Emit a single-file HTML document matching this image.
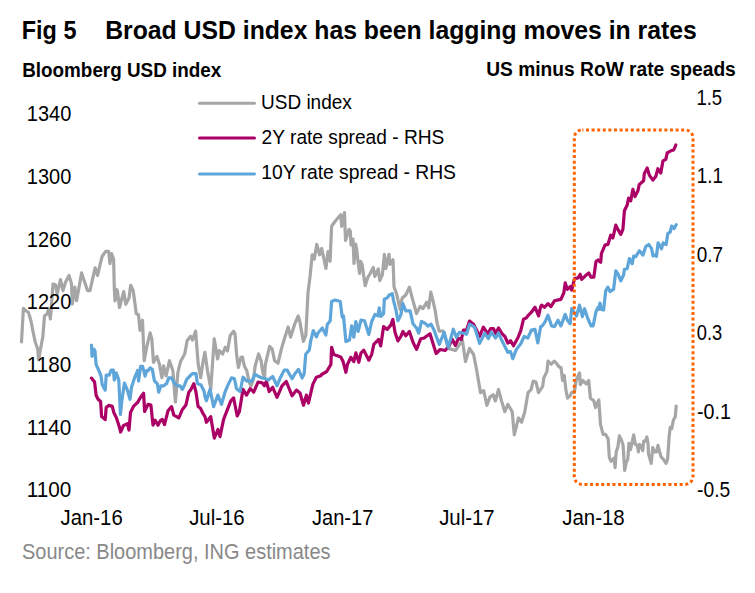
<!DOCTYPE html>
<html><head><meta charset="utf-8"><style>
html,body{margin:0;padding:0;background:#fff;}
body{width:755px;height:593px;overflow:hidden;}
svg{display:block;font-family:"Liberation Sans",sans-serif;}
</style></head><body>
<svg width="755" height="593" viewBox="0 0 755 593">
<rect x="0" y="0" width="755" height="593" fill="#fff"/>
<g fill="none" stroke-linejoin="round" stroke-linecap="round" stroke-width="3.2">
<polyline points="21.5,342.0 23.4,308.3 26.0,310.8 28.5,312.5 31.0,321.0 32.7,330.0 35.2,342.0 37.8,349.5 38.6,360.0 40.3,350.0 42.8,337.0 44.5,316.0 47.0,314.0 48.7,309.0 50.4,319.0 53.0,284.0 55.5,284.7 57.2,294.0 60.5,279.6 63.0,290.6 65.6,282.0 69.0,275.4 71.5,283.8 72.3,304.0 74.9,287.2 76.6,300.7 81.6,272.9 84.1,280.5 87.5,290.6 90.0,290.6 95.1,267.8 97.6,275.4 100.0,265.0 102.1,256.5 105.7,251.4 108.6,251.4 110.0,263.6 111.5,253.6 113.6,259.3 114.3,288.0 115.0,300.8 116.5,289.4 117.4,290.6 119.5,307.5 123.7,291.6 125.8,304.3 129.0,298.0 130.7,285.3 133.2,290.6 136.3,313.8 138.5,314.8 140.0,330.4 142.5,320.2 144.2,360.7 146.7,347.2 150.1,332.9 151.8,338.8 153.5,362.4 156.9,356.5 159.4,364.1 161.9,377.6 163.6,365.8 166.1,375.9 169.5,360.7 172.9,370.8 175.4,402.0 177.9,372.5 180.5,361.6 184.7,354.0 187.2,340.5 190.6,336.3 192.5,340.0 195.6,331.2 198.2,364.1 200.7,377.6 203.2,360.7 204.9,352.3 207.5,370.8 210.8,389.0 214.2,338.8 217.6,359.0 219.3,350.6 222.6,354.0 225.2,347.2 227.5,351.0 230.2,335.4 233.6,331.2 235.0,333.7 236.7,355.6 238.4,367.5 240.9,357.3 242.5,357.0 244.3,365.8 246.8,370.8 249.3,382.6 251.0,386.0 253.5,379.3 255.2,365.8 258.6,354.0 261.1,360.7 262.8,372.5 264.5,377.6 265.4,364.1 269.6,346.4 272.1,348.9 274.6,360.7 278.0,363.2 281.4,348.9 283.9,340.5 288.1,327.0 290.6,337.1 294.9,323.6 298.2,316.0 299.9,321.9 303.3,341.3 305.8,335.4 308.0,292.7 310.1,275.9 312.2,254.8 314.3,259.0 316.8,244.3 319.6,254.8 321.7,248.5 325.9,268.5 328.0,251.6 330.1,261.1 331.6,226.3 335.4,221.0 340.7,214.8 341.7,226.3 344.5,212.6 345.5,240.5 349.0,229.3 350.3,231.0 351.0,245.0 353.0,239.1 354.0,263.4 355.6,244.2 356.5,248.0 358.1,262.4 359.6,273.5 360.6,261.4 362.1,264.4 365.2,285.7 367.7,277.6 370.2,273.5 373.3,267.4 374.8,276.5 378.3,269.0 379.8,280.6 382.4,274.5 384.4,254.3 385.9,268.5 389.0,254.3 390.0,264.4 393.0,259.8 394.0,286.7 396.5,293.6 400.1,309.3 402.2,297.9 405.8,295.0 409.4,287.1 412.2,297.9 416.5,313.6 420.1,306.5 423.0,308.6 426.6,302.2 428.7,307.9 430.8,292.2 433.0,300.8 435.1,310.0 437.1,323.2 439.2,331.2 443.2,331.2 448.3,348.4 455.4,350.5 462.4,340.4 465.5,361.6 469.5,348.4 473.6,354.5 476.6,369.7 480.5,392.7 483.7,390.6 486.9,405.3 490.0,396.9 493.2,394.8 495.3,401.1 498.5,389.5 501.6,401.1 504.8,411.7 507.9,404.3 512.2,411.7 514.3,434.9 518.5,418.0 521.6,422.2 524.8,411.7 528.0,392.7 531.1,389.5 533.2,381.1 536.0,382.0 538.5,392.7 542.7,386.4 543.8,377.9 546.9,371.6 548.0,361.1 551.2,364.2 554.3,361.1 555.0,361.9 557.0,364.0 559.2,367.0 561.0,367.5 562.6,380.5 564.3,375.4 566.0,390.6 567.6,398.2 570.2,395.6 571.9,392.3 574.4,392.3 576.1,380.5 579.5,372.9 580.3,384.7 582.8,380.5 586.2,383.8 588.7,380.5 590.4,398.2 593.8,400.7 595.5,407.5 598.8,399.9 600.5,424.3 603.1,434.4 605.6,434.4 608.2,439.1 609.3,457.1 610.9,461.3 614.1,458.1 615.1,467.7 616.2,451.8 617.8,447.5 619.4,435.9 621.5,440.1 623.1,445.4 624.7,470.3 626.3,462.4 627.8,459.2 628.9,443.3 630.5,449.7 633.7,434.8 635.3,444.4 637.4,445.4 638.4,451.8 639.5,444.4 641.6,446.5 642.7,450.7 643.7,441.2 645.3,441.2 646.9,437.0 648.0,443.3 648.5,453.9 651.2,463.4 652.8,447.5 654.3,451.8 656.5,451.8 658.0,445.4 659.6,451.8 661.2,457.1 663.3,459.2 666.0,463.4 667.6,459.2 669.2,435.9 670.2,427.4 671.8,428.5 673.4,420.0 675.3,416.7 676.2,406.0" stroke="#a6a6a6"/>
<polyline points="91.5,378.1 94.6,382.1 96.1,395.3 98.1,399.3 100.6,401.4 101.6,416.5 105.2,419.6 106.2,407.4 108.7,405.4 112.3,406.4 113.8,412.5 116.3,417.6 119.3,426.7 120.6,432.0 123.4,425.7 127.4,423.6 129.0,430.0 130.5,412.5 133.5,406.4 137.6,402.4 140.6,397.3 143.6,393.3 144.6,411.5 148.0,404.4 150.9,405.1 153.0,425.2 155.2,420.2 158.0,425.2 160.2,420.9 162.3,419.4 164.5,424.5 168.0,410.8 171.6,406.6 173.8,415.1 176.6,416.6 178.8,418.0 182.4,409.4 185.9,405.1 188.8,392.2 191.0,389.4 193.8,383.6 196.0,392.2 198.1,406.6 200.3,408.0 203.1,413.7 205.0,416.6 206.4,422.3 210.7,416.6 214.3,438.1 217.9,429.5 220.0,436.6 223.6,419.4 227.2,410.1 230.8,400.8 233.6,398.0 237.2,415.9 239.4,411.6 243.0,389.4 246.5,395.1 250.1,388.7 253.7,392.2 258.0,382.2 262.3,382.9 264.4,385.8 266.3,381.5 269.2,391.5 272.7,387.3 277.0,397.3 282.0,385.8 286.3,381.5 292.1,395.8 296.4,390.1 300.0,393.0 303.5,405.2 306.4,395.1 308.5,403.0 312.8,384.4 316.4,377.2 320.7,375.8 321.6,374.5 326.6,371.6 330.9,364.5 331.6,347.3 333.8,354.4 338.0,355.9 340.9,357.3 343.1,361.6 345.9,372.3 347.4,364.5 350.9,357.3 353.8,361.6 355.9,352.9 358.8,362.3 361.0,353.0 363.8,350.1 368.8,360.2 371.7,354.4 373.8,344.4 378.0,340.1 378.6,339.4 380.7,345.9 383.6,326.5 387.2,329.4 390.8,325.1 392.9,319.4 395.0,332.3 397.9,340.9 400.8,336.6 402.9,331.5 405.8,335.8 409.4,331.5 413.0,342.3 416.5,349.4 420.8,338.7 424.4,338.0 425.0,337.3 430.0,333.8 436.1,353.5 440.2,349.5 445.2,350.5 449.0,346.0 452.3,339.4 455.4,345.4 458.4,338.3 461.4,339.4 463.4,330.2 466.5,330.2 469.5,321.1 473.6,324.2 479.6,336.3 483.4,327.2 487.7,333.7 490.6,328.7 493.5,328.7 495.6,333.7 498.5,327.9 502.0,333.7 504.9,336.5 507.8,343.0 510.6,340.8 513.5,345.8 517.8,338.0 520.7,330.8 523.5,319.3 526.4,317.9 527.8,315.8 531.4,312.2 535.0,307.2 538.6,315.8 540.7,306.5 541.6,305.1 544.4,307.3 548.0,303.7 550.9,306.6 554.5,300.8 557.3,300.1 560.9,299.4 563.8,293.0 565.2,282.9 567.4,289.4 570.2,286.5 571.7,290.1 574.5,278.6 578.1,277.9 580.2,274.3 581.7,279.4 585.3,275.8 588.8,272.9 591.0,277.2 593.8,277.2 596.0,261.5 598.0,260.0 600.7,262.3 601.4,253.7 605.0,245.1 607.9,244.4 610.8,235.1 612.9,238.0 615.8,225.1 617.9,229.4 620.8,234.4 622.9,229.4 624.4,210.8 627.2,205.0 628.6,198.0 630.7,200.9 632.9,189.4 635.0,196.6 637.9,190.8 639.3,184.4 643.6,180.8 644.3,173.7 647.2,167.9 649.3,175.1 652.9,180.1 655.8,176.5 657.9,168.7 660.8,173.0 663.0,160.8 665.8,159.3 667.2,152.9 670.8,150.8 673.7,150.0 675.8,145.0" stroke="#ab0066"/>
<polyline points="91.5,345.2 92.0,356.3 94.0,349.2 95.0,351.0 96.1,364.4 98.6,370.0 101.1,376.1 102.1,384.2 105.2,390.2 106.2,375.1 109.2,375.1 111.2,370.0 113.3,370.0 114.3,380.1 116.3,373.0 118.8,380.1 120.4,414.5 121.9,400.4 124.4,383.2 127.4,390.2 130.0,399.3 131.5,387.2 134.5,378.1 137.6,370.5 138.6,381.1 140.6,366.4 142.6,366.4 145.1,376.1 146.7,370.5 148.0,370.8 150.1,367.9 152.3,369.3 154.4,380.8 157.3,383.6 158.7,392.2 160.9,385.8 163.8,385.8 166.6,383.6 168.8,377.9 171.6,377.9 174.5,383.6 177.4,385.8 180.2,385.8 182.4,389.4 184.5,385.1 186.7,379.3 189.5,376.5 192.4,373.6 196.0,373.6 197.4,383.6 201.0,385.1 203.9,390.8 205.0,396.5 206.4,400.8 210.0,389.4 213.6,406.6 217.9,395.1 221.5,404.4 225.0,392.2 227.9,385.1 231.5,377.9 234.4,378.6 236.5,388.7 240.1,391.5 243.0,377.2 246.5,380.8 251.5,381.5 255.1,374.3 258.7,376.5 262.0,378.0 265.6,378.7 268.4,380.1 272.7,376.5 277.0,385.8 280.6,377.2 284.2,370.1 287.1,370.1 292.1,378.7 294.9,373.7 298.5,369.4 302.1,378.0 304.2,373.7 305.7,354.3 309.3,350.0 310.7,341.0 313.3,330.6 316.4,336.9 318.0,333.0 322.3,328.0 325.9,335.1 327.3,324.4 330.2,320.8 331.6,301.5 335.2,300.0 340.2,301.5 342.3,317.2 343.5,316.0 345.9,341.6 349.5,340.1 351.7,325.8 353.8,337.3 355.9,321.5 358.1,331.5 361.0,320.1 364.5,320.8 368.8,334.4 371.7,321.5 375.0,314.4 377.9,315.8 379.3,307.9 380.7,316.5 383.6,313.6 384.3,299.3 387.2,297.9 389.3,295.0 392.2,293.6 393.6,300.8 395.8,309.3 397.9,320.8 400.8,315.1 402.9,303.6 405.8,310.8 410.1,310.8 413.0,323.7 416.5,328.0 418.7,333.0 421.5,321.5 425.0,323.2 428.0,326.2 431.1,324.2 434.1,330.2 439.2,344.4 444.2,332.3 448.3,347.4 453.3,329.2 456.4,337.3 459.4,332.3 463.4,333.3 466.5,334.3 469.5,324.2 474.6,327.2 479.6,343.4 484.7,333.3 488.4,338.7 491.3,332.2 495.6,338.0 498.5,333.0 502.0,340.8 504.9,346.6 507.8,352.3 510.6,351.6 512.8,358.7 516.4,349.4 520.7,343.7 524.2,336.5 527.8,338.0 531.4,330.1 535.0,329.4 537.8,343.0 540.7,326.5 542.3,325.9 545.2,321.6 548.0,315.2 551.6,325.9 554.5,326.6 558.0,320.2 560.9,325.9 565.2,314.4 567.4,320.2 570.2,323.7 571.7,308.7 574.5,313.0 576.5,316.0 579.5,305.1 582.4,316.6 584.5,308.7 587.4,317.3 591.0,325.9 593.1,325.9 596.0,311.6 598.0,307.3 598.6,309.4 600.0,303.0 601.4,309.4 603.6,310.1 605.7,290.8 607.9,287.2 610.0,291.5 613.6,289.4 615.8,270.8 617.9,273.6 620.8,280.8 623.6,275.0 624.4,269.3 627.2,268.6 629.4,258.6 632.2,263.6 633.7,256.0 635.8,256.6 639.4,250.8 643.0,255.1 645.8,246.6 648.7,244.4 651.6,248.7 653.0,255.9 655.0,255.1 656.4,256.4 658.1,242.8 661.5,248.8 663.1,242.8 666.1,244.5 667.8,233.6 670.3,231.9 671.6,226.0 674.1,228.5 676.2,224.7" stroke="#5ea5da"/>
</g>
<g>
<text x="21.80" y="38.90" font-size="26.5" font-weight="bold" fill="#000" textLength="54.60" lengthAdjust="spacingAndGlyphs">Fig 5</text>
<text x="105.20" y="38.80" font-size="26.5" font-weight="bold" fill="#000" textLength="591.60" lengthAdjust="spacingAndGlyphs">Broad USD index has been lagging moves in rates</text>
<text x="22.20" y="76.90" font-size="20.5" font-weight="bold" fill="#000" textLength="199.10" lengthAdjust="spacingAndGlyphs">Bloomberg USD index</text>
<text x="486.20" y="75.90" font-size="20.7" font-weight="bold" fill="#000" textLength="249.60" lengthAdjust="spacingAndGlyphs">US minus RoW rate speads</text>
<text x="26.80" y="121.10" font-size="21.4" font-weight="normal" fill="#000" textLength="44.50" lengthAdjust="spacingAndGlyphs">1340</text>
<text x="26.80" y="183.83" font-size="21.4" font-weight="normal" fill="#000" textLength="44.50" lengthAdjust="spacingAndGlyphs">1300</text>
<text x="26.80" y="246.56" font-size="21.4" font-weight="normal" fill="#000" textLength="44.50" lengthAdjust="spacingAndGlyphs">1260</text>
<text x="26.80" y="309.29" font-size="21.4" font-weight="normal" fill="#000" textLength="44.50" lengthAdjust="spacingAndGlyphs">1220</text>
<text x="26.80" y="372.02" font-size="21.4" font-weight="normal" fill="#000" textLength="44.50" lengthAdjust="spacingAndGlyphs">1180</text>
<text x="26.80" y="434.75" font-size="21.4" font-weight="normal" fill="#000" textLength="44.50" lengthAdjust="spacingAndGlyphs">1140</text>
<text x="26.80" y="497.48" font-size="21.4" font-weight="normal" fill="#000" textLength="44.50" lengthAdjust="spacingAndGlyphs">1100</text>
<text x="696.40" y="104.60" font-size="21.2" font-weight="normal" fill="#000" textLength="25.80" lengthAdjust="spacingAndGlyphs">1.5</text>
<text x="696.80" y="183.12" font-size="21.2" font-weight="normal" fill="#000" textLength="26.20" lengthAdjust="spacingAndGlyphs">1.1</text>
<text x="696.80" y="261.64" font-size="21.2" font-weight="normal" fill="#000" textLength="26.30" lengthAdjust="spacingAndGlyphs">0.7</text>
<text x="696.80" y="340.16" font-size="21.2" font-weight="normal" fill="#000" textLength="25.40" lengthAdjust="spacingAndGlyphs">0.3</text>
<text x="697.00" y="418.68" font-size="21.2" font-weight="normal" fill="#000" textLength="33.90" lengthAdjust="spacingAndGlyphs">-0.1</text>
<text x="697.00" y="497.20" font-size="21.2" font-weight="normal" fill="#000" textLength="33.20" lengthAdjust="spacingAndGlyphs">-0.5</text>
<text x="60.60" y="525.00" font-size="21.3" font-weight="normal" fill="#000" textLength="62.10" lengthAdjust="spacingAndGlyphs">Jan-16</text>
<text x="189.20" y="525.00" font-size="21.3" font-weight="normal" fill="#000" textLength="55.50" lengthAdjust="spacingAndGlyphs">Jul-16</text>
<text x="312.10" y="525.00" font-size="21.3" font-weight="normal" fill="#000" textLength="61.20" lengthAdjust="spacingAndGlyphs">Jan-17</text>
<text x="439.20" y="525.00" font-size="21.3" font-weight="normal" fill="#000" textLength="55.50" lengthAdjust="spacingAndGlyphs">Jul-17</text>
<text x="562.20" y="525.00" font-size="21.3" font-weight="normal" fill="#000" textLength="62.50" lengthAdjust="spacingAndGlyphs">Jan-18</text>
<text x="22.00" y="558.70" font-size="21.2" font-weight="normal" fill="#888888" textLength="308.50" lengthAdjust="spacingAndGlyphs">Source: Bloomberg, ING estimates</text>
<text x="261.00" y="108.70" font-size="20.5" font-weight="normal" fill="#000" textLength="90.80" lengthAdjust="spacingAndGlyphs">USD index</text>
<text x="261.60" y="143.70" font-size="20.5" font-weight="normal" fill="#000" textLength="182.80" lengthAdjust="spacingAndGlyphs">2Y rate spread - RHS</text>
<text x="261.20" y="178.90" font-size="20.5" font-weight="normal" fill="#000" textLength="194.80" lengthAdjust="spacingAndGlyphs">10Y rate spread - RHS</text>
</g>
<line x1="199.5" y1="103.3" x2="254.5" y2="103.3" stroke="#a6a6a6" stroke-width="3" stroke-linecap="round"/>
<line x1="199.5" y1="138" x2="254.5" y2="138" stroke="#ab0066" stroke-width="3" stroke-linecap="round"/>
<line x1="199.5" y1="173.9" x2="254.5" y2="173.9" stroke="#5ea5da" stroke-width="3" stroke-linecap="round"/>
<rect x="574.3" y="129.9" width="118.7" height="354.5" rx="8" ry="8" fill="none" stroke="#ff6200" stroke-width="3" stroke-dasharray="3 2.6" stroke-dashoffset="1.9"/>
</svg>
</body></html>
